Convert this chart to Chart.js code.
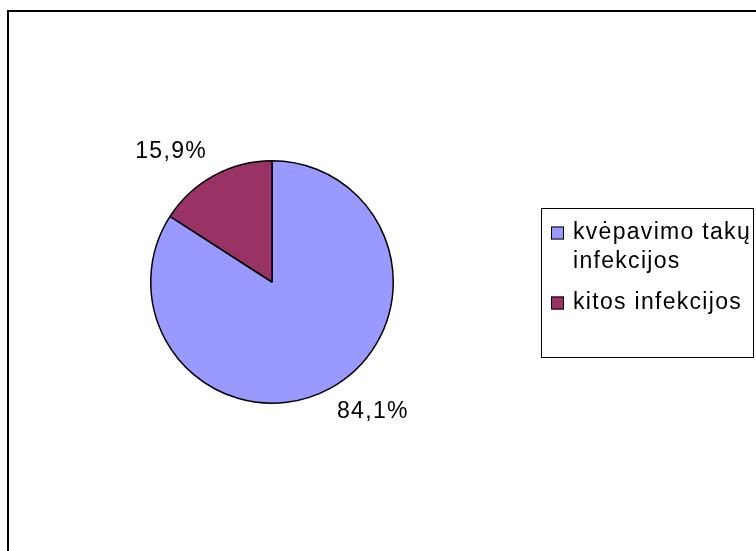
<!doctype html>
<html>
<head>
<meta charset="utf-8">
<title>Infekcijos</title>
<script src="https://cdn.jsdelivr.net/npm/chart.js@4.4.0/dist/chart.umd.min.js"></script>
<style>
body { margin: 0; background: #fff; }
#wrap { position: relative; width: 756px; height: 551px; overflow: hidden; }
#frame { position: absolute; left: 7px; top: 10px; width: 900px; height: 700px;
         border-left: 2px solid #000; border-top: 2px solid #000; }
canvas { position: absolute; left: 0; top: 0; }
</style>
</head>
<body>
<div id="wrap">
  <div id="frame"></div>
  <canvas id="canvas" width="756" height="551"></canvas>
</div>
<script>
// data
var labels = [['kvėpavimo takų', 'infekcijos'], 'kitos infekcijos'];
var values = [84.1, 15.9];
var valueLabels = ['84,1%', '15,9%'];
var colors = ['#9999FF', '#993366'];

var FONT = '23px "Liberation Sans", Arial, sans-serif';

// percent labels outside the slices + the boxed legend on the right
var textPlugin = {
    id: 'textPlugin',
    afterDraw: function(chart) {
        var ctx = chart.ctx;
        var meta = chart.getDatasetMeta(0);
        ctx.save();
        ctx.font = FONT;
        ctx.letterSpacing = '1.3px';
        ctx.fillStyle = '#000';
        ctx.textBaseline = 'middle';
        meta.data.forEach(function(arc, i) {
            var mid = (arc.startAngle + arc.endAngle) / 2;
            var r = arc.outerRadius + 27;
            var side = Math.cos(mid) >= 0 ? 1 : -1;
            var x = arc.x + Math.cos(mid) * r - side * 6;
            var y = arc.y + Math.sin(mid) * r;
            ctx.textAlign = side > 0 ? 'left' : 'right';
            ctx.fillText(valueLabels[i], x, y);
        });

        // legend
        ctx.strokeStyle = '#000';
        ctx.lineWidth = 1;
        ctx.strokeRect(541.5, 208.5, 212, 149);
        ctx.textAlign = 'left';
        var y = 233;
        chart.data.labels.forEach(function(lab, i) {
            var lines = Array.isArray(lab) ? lab : [lab];
            ctx.fillStyle = chart.data.datasets[0].backgroundColor[i];
            ctx.fillRect(551, y - 6.5, 13, 13);
            ctx.strokeRect(551.5, y - 6, 12, 12);
            ctx.fillStyle = '#000';
            lines.forEach(function(t, j) {
                ctx.fillText(t, 573, y + j * 29);
            });
            y += (lines.length - 1) * 29 + 41;
        });
        ctx.restore();
    }
};

var config = {
    type: 'pie',
    data: {
        labels: labels,
        datasets: [{
            data: values,
            backgroundColor: colors,
            borderColor: '#000',
            borderWidth: 1.5
        }]
    },
    options: {
        responsive: false,
        animation: false,
        devicePixelRatio: 1,
        layout: { padding: { left: 150, top: 160, right: 362, bottom: 147 } },
        plugins: {
            legend: { display: false },
            tooltip: { enabled: false }
        }
    },
    plugins: [textPlugin]
};

window.myPie = new Chart(document.getElementById('canvas'), config);
</script>
</body>
</html>
